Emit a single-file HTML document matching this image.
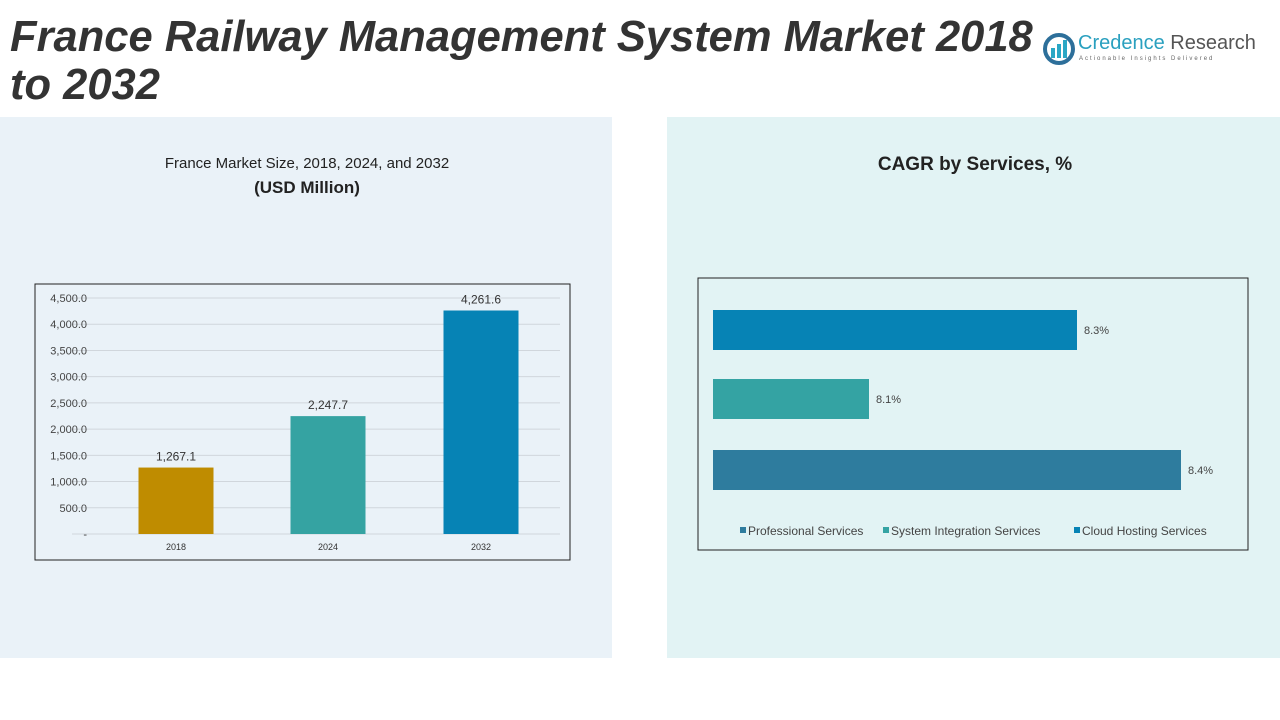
<!DOCTYPE html>
<html><head><meta charset="utf-8"><style>
body{margin:0;width:1280px;height:720px;background:#fff;position:relative;overflow:hidden;font-family:"Century Gothic","Liberation Sans",sans-serif;}
.abs{position:absolute}
</style></head><body>
<div class="abs" style="left:0;top:117px;width:612px;height:541px;background:#eaf2f8"></div>
<div class="abs" style="left:667px;top:117px;width:613px;height:541px;background:#e2f3f4"></div>
<div class="abs" style="left:10px;top:13px;width:1045px;font:italic bold 43.5px 'Liberation Sans',sans-serif;color:#333;line-height:48px">France Railway Management System Market 2018 to 2032</div>
<div class="abs" style="left:1042px;top:30px;width:220px;height:40px">
<svg width="34" height="34" style="position:absolute;left:0;top:2px"><circle cx="17" cy="17" r="14" fill="none" stroke="#2d6f9a" stroke-width="4"/><rect x="9" y="16" width="4" height="10" fill="#2aa7c5"/><rect x="15" y="12" width="4" height="14" fill="#2aa7c5"/><rect x="21" y="8" width="4" height="18" fill="#2aa7c5"/></svg>
<div style="position:absolute;left:36px;top:2px;font:20px 'Liberation Sans',sans-serif;color:#2aa0bf;white-space:nowrap">Credence <span style="color:#555">Research</span></div>
<div style="position:absolute;left:37px;top:26px;font:6px 'Liberation Sans',sans-serif;letter-spacing:2px;color:#666;white-space:nowrap">Actionable Insights Delivered</div>
</div>
<div class="abs" style="left:100px;top:152px;width:414px;text-align:center;font-size:15px;color:#222;line-height:24px">France Market Size, 2018, 2024, and 2032<br><b style="font-size:17px">(USD Million)</b></div>
<div class="abs" style="left:800px;top:154px;width:350px;text-align:center;font-weight:bold;font-size:19px;color:#222">CAGR by Services, %</div>
<svg class="abs" style="left:0;top:0" width="1280" height="720" id="svg"></svg>
<script>
const years=['2018','2024','2032'];
const sizes=[1267.1,2247.7,4261.6];
const sizeLabels=['1,267.1','2,247.7','4,261.6'];
const yTicks=[0,500,1000,1500,2000,2500,3000,3500,4000,4500];
const yTickLabels=['-','500.0','1,000.0','1,500.0','2,000.0','2,500.0','3,000.0','3,500.0','4,000.0','4,500.0'];
const services=['Cloud Hosting Services','System Integration Services','Professional Services'];
const cagr=[8.3,8.1,8.4];
const cagrLabels=['8.3%','8.1%','8.4%'];
const legendOrder=['Professional Services','System Integration Services','Cloud Hosting Services'];
const svg=document.getElementById('svg');const NS='http://www.w3.org/2000/svg';
function mk(t,a,txt){const e=document.createElementNS(NS,t);for(const k in a)e.setAttribute(k,a[k]);if(txt!==undefined)e.textContent=txt;svg.appendChild(e);return e;}
const F='Century Gothic, Liberation Sans, sans-serif';
let e=mk('rect',{x:35,y:284,width:535,height:276,fill:'none',stroke:'#222','stroke-width':1});

const y0=534,yk=236/4500;const Y=v=>y0-v*yk;
yTicks.forEach((t,i)=>{
 e=mk('line',{x1:72,x2:560,y1:Y(t),y2:Y(t),stroke:'#d0d6dc','stroke-width':1});
 
 e=mk('text',{x:87,y:Y(t)+4,'text-anchor':'end','font-size':11,fill:'#444','font-family':F},yTickLabels[i]);
 
});
const colors=['#bf8c00','#35a3a2','#0683b5'];
const cx=[176,328,481];
years.forEach((yr,i)=>{
 e=mk('rect',{x:cx[i]-37.5,y:Y(sizes[i]),width:75,height:sizes[i]*yk,fill:colors[i]});
 
 e=mk('text',{x:cx[i],y:Y(sizes[i])-7,'text-anchor':'middle','font-size':12,fill:'#333','font-family':F},sizeLabels[i]);
 
 e=mk('text',{x:cx[i],y:550,'text-anchor':'middle','font-size':9,fill:'#333','font-family':F},yr);
 
});
e=mk('rect',{x:698,y:278,width:550,height:272,fill:'none',stroke:'#222','stroke-width':1});

const xmin=7.95,xk=1040,x0=713;const X=v=>x0+(v-xmin)*xk;
const by=[310,379,450];
const scol={'Cloud Hosting Services':'#0683b5','System Integration Services':'#34a3a3','Professional Services':'#2e7c9e'};
services.forEach((s,i)=>{
 e=mk('rect',{x:x0,y:by[i],width:X(cagr[i])-x0,height:40,fill:scol[s]});
 
 e=mk('text',{x:X(cagr[i])+7,y:by[i]+24,'font-size':11,fill:'#444','font-family':F},cagrLabels[i]);
 
});
const lx=[740,883,1074];
legendOrder.forEach((s,i)=>{
 e=mk('rect',{x:lx[i],y:527,width:6,height:6,fill:scol[s]});
 
 e=mk('text',{x:lx[i]+8,y:535,'font-size':12,fill:'#444','font-family':F},s);
 
});
</script>
</body></html>
